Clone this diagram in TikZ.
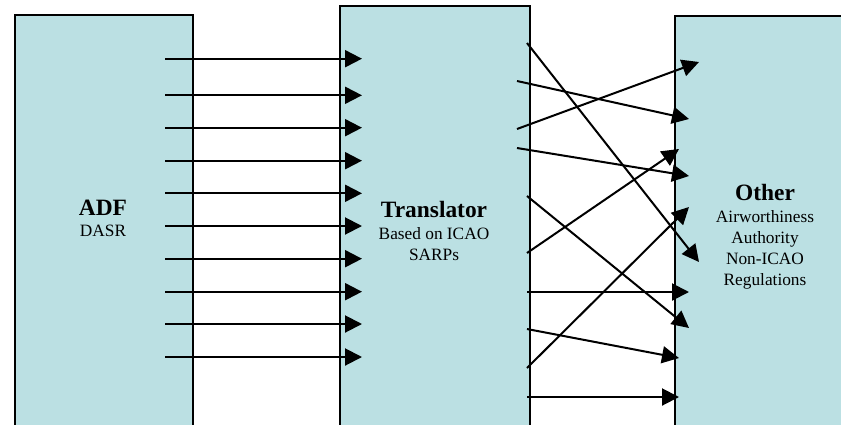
\documentclass[tikz,border=0pt]{standalone}
\usepackage{fontspec}
\setmainfont{Liberation Serif}
\usepackage{tikz}
\usetikzlibrary{arrows.meta}
\usetikzlibrary{positioning}

\definecolor{panel}{RGB}{187,224,227}

\begin{document}
\begin{tikzpicture}[x=1pt, y=-1pt, line width=2pt,
    box/.style = {draw, fill=panel, line width=2.2pt, anchor=north west, inner sep=0pt},
    flow/.style = {-{Triangle[length=17pt,width=17pt]}},
    head/.style = {font=\bfseries\fontsize{23.4}{26}\selectfont, anchor=base, inner sep=0pt},
    note/.style = {font=\fontsize{17.3}{21}\selectfont, align=center, anchor=base, inner sep=0pt}]
    \clip (0,0) rectangle (841,424);

    % the three bodies
    \node[box, minimum width=178, minimum height=430] (adf) at (14,14) {};
    \node[box, minimum width=190, minimum height=440] (trans) at (339,5) {};
    \node[box, minimum width=190, minimum height=430] (other) at (674,15) {};

    % labels (base = last line)
    \node[head] (adfhead) at (103,215) {ADF};
    \node[note] (adfnote) at (103,236.7) {DASR};
    \node[head] (transhead) at (434,217.3) {Translator};
    \node[note] (transnote) at (434,260) {Based on ICAO\\SARPs};
    \node[head] (otherhead) at (765,200) {Other};
    \node[note] (othernote) at (765,285.7) {Airworthiness\\Authority\\Non-ICAO\\Regulations};

    % ADF -> Translator
    \foreach \y [count=\i] in {58.7,95.3,127.7,160.7,193.3,226,258.7,291.7,324,357} {
        \coordinate (in\i) at (165,\y);
        \coordinate (out\i) at (362,\y);
        \draw[flow] (in\i) -- (out\i);
    }

    % Translator -> Other
    \foreach \sx/\sy/\ex/\ey [count=\i] in {527/43/699/262, 517/81/689/119, 517/129/699/62,
        517/148/689/176, 527/196/689/328, 527/253/679/149, 527/292/689/292,
        527/329/679/358, 527/368/689/207, 527/397/679/397} {
        \coordinate (s\i) at (\sx,\sy);
        \coordinate (t\i) at (\ex,\ey);
        \draw[flow] (s\i) -- (t\i);
    }
\end{tikzpicture}
\end{document}
